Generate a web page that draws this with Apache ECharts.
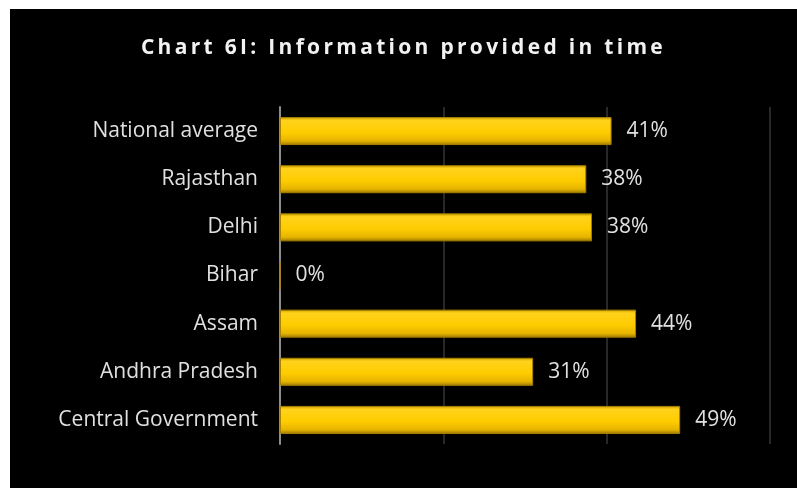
<!DOCTYPE html>
<html>
<head>
<meta charset="utf-8">
<script src="https://cdn.jsdelivr.net/npm/echarts@6/dist/echarts.min.js"></script>
<style>
  html, body { margin: 0; padding: 0; background: #fff; }
  #panel { position: absolute; left: 10px; top: 9px; width: 787px; height: 479px; background: #000; }
  #title {
    position: absolute; left: 0; top: 23px; width: 787px; text-align: center;
    font-family: "Open Sans", sans-serif; font-weight: bold; font-size: 21px;
    letter-spacing: 3.3px; color: #f2f2f2;
  }
  #chart { position: absolute; left: 0; top: 0; width: 787px; height: 479px; }
</style>
</head>
<body>
<div id="panel">
  <div id="chart"></div>
  <div id="title">Chart 6I: Information provided in time</div>
</div>
<script>
const categories = ['National average', 'Rajasthan', 'Delhi', 'Bihar', 'Assam', 'Andhra Pradesh', 'Central Government']
const values = [40.6, 37.5, 38.2, 0, 43.6, 31.0, 49.0]

var myChart = echarts.init(document.getElementById('chart'))

// gold bar with bevelled look
var gold = new echarts.graphic.LinearGradient(0, 0, 0, 1, [
  { offset: 0, color: '#c89d00' },
  { offset: 0.12, color: '#ffd21c' },
  { offset: 0.55, color: '#ffcc00' },
  { offset: 0.85, color: '#e6b400' },
  { offset: 1, color: '#9c7800' }
])

var option = {
  backgroundColor: 'transparent',
  textStyle: { fontFamily: '"Open Sans", sans-serif' },
  grid: { left: 270, right: 27, top: 98, bottom: 44 },
  xAxis: {
    type: 'value',
    min: 0,
    max: 60,
    interval: 20,
    axisLabel: { show: false },
    axisLine: { show: false },
    axisTick: { show: false },
    splitLine: { lineStyle: { color: '#282828', width: 2 } }
  },
  yAxis: {
    type: 'category',
    inverse: true,
    data: categories,
    axisTick: { show: false },
    axisLine: { lineStyle: { color: '#8c8c8c', width: 2 } },
    axisLabel: { color: '#e0e0e0', fontSize: 21, margin: 22 }
  },
  series: [
    {
      type: 'bar',
      data: values,
      barWidth: 28,
      itemStyle: { color: gold, borderColor: '#a88200', borderWidth: 1 },
      label: {
        show: true,
        position: 'right',
        distance: 15,
        color: '#e0e0e0',
        fontSize: 21,
        formatter: p => Math.round(p.value) + '%'
      }
    }
  ]
}

myChart.setOption(option)
</script>
</body>
</html>
